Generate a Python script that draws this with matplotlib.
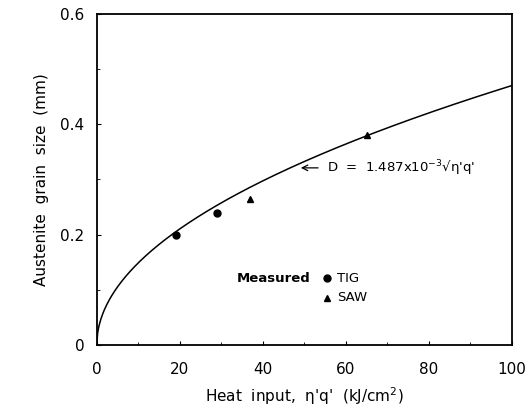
import numpy as np
import matplotlib.pyplot as plt
from matplotlib.ticker import MultipleLocator

# measured grain sizes
tig_x = [19, 29]
tig_y = [0.200, 0.240]
saw_x = [37, 65]
saw_y = [0.265, 0.380]

# fitted curve, D = 1.487e-3 * sqrt(eta'q') with eta'q' in J/cm2
coef = 1.487e-3
heat = np.linspace(0, 100, 500)
grain = coef * np.sqrt(heat * 1000)

plt.rcParams['font.family'] = 'DejaVu Sans'

fig = plt.figure(figsize=(5.26, 4.13), dpi=100)
ax = fig.add_axes([0.184, 0.165, 0.789, 0.801])

ax.plot(heat, grain, color='black', lw=1.1)
ax.plot(tig_x, tig_y, 'o', color='black', ms=5)
ax.plot(saw_x, saw_y, '^', color='black', ms=5)

ax.set_xlim(0, 100)
ax.set_ylim(0, 0.6)
ax.set_xticks([0, 20, 40, 60, 80, 100])
ax.set_yticks([0, 0.2, 0.4, 0.6])
ax.set_yticklabels(['0', '0.2', '0.4', '0.6'])
ax.yaxis.set_minor_locator(MultipleLocator(0.1))
ax.xaxis.set_minor_locator(MultipleLocator(10))
ax.tick_params(which='both', direction='in', labelsize=11)
ax.tick_params(which='major', length=3)
ax.tick_params(axis='x', which='major', pad=12)
ax.tick_params(axis='y', which='major', pad=9)
ax.tick_params(which='minor', length=2)
for s in ax.spines.values():
    s.set_linewidth(1.3)

ax.set_xlabel("Heat  input,  η'q'  (kJ/cm$^2$)", fontsize=11, labelpad=6)
ax.set_ylabel("Austenite  grain  size  (mm)", fontsize=11, labelpad=8)

# equation label with arrow
ax.annotate('', xy=(48.5, 0.321), xytext=(54, 0.321),
            arrowprops=dict(arrowstyle='->', color='black', lw=0.9))
ax.text(55.5, 0.321, "D  =  1.487x10$^{-3}$√η'q'", fontsize=9.5, va='center')

# key
ax.text(33.7, 0.121, 'Measured', fontsize=9.5, va='center', fontweight='semibold')
ax.plot([55.5], [0.121], 'o', color='black', ms=5)
ax.text(58, 0.121, 'TIG', fontsize=9.5, va='center')
ax.plot([55.5], [0.085], '^', color='black', ms=5)
ax.text(58, 0.085, 'SAW', fontsize=9.5, va='center')

fig.savefig('out.png', dpi=100)
